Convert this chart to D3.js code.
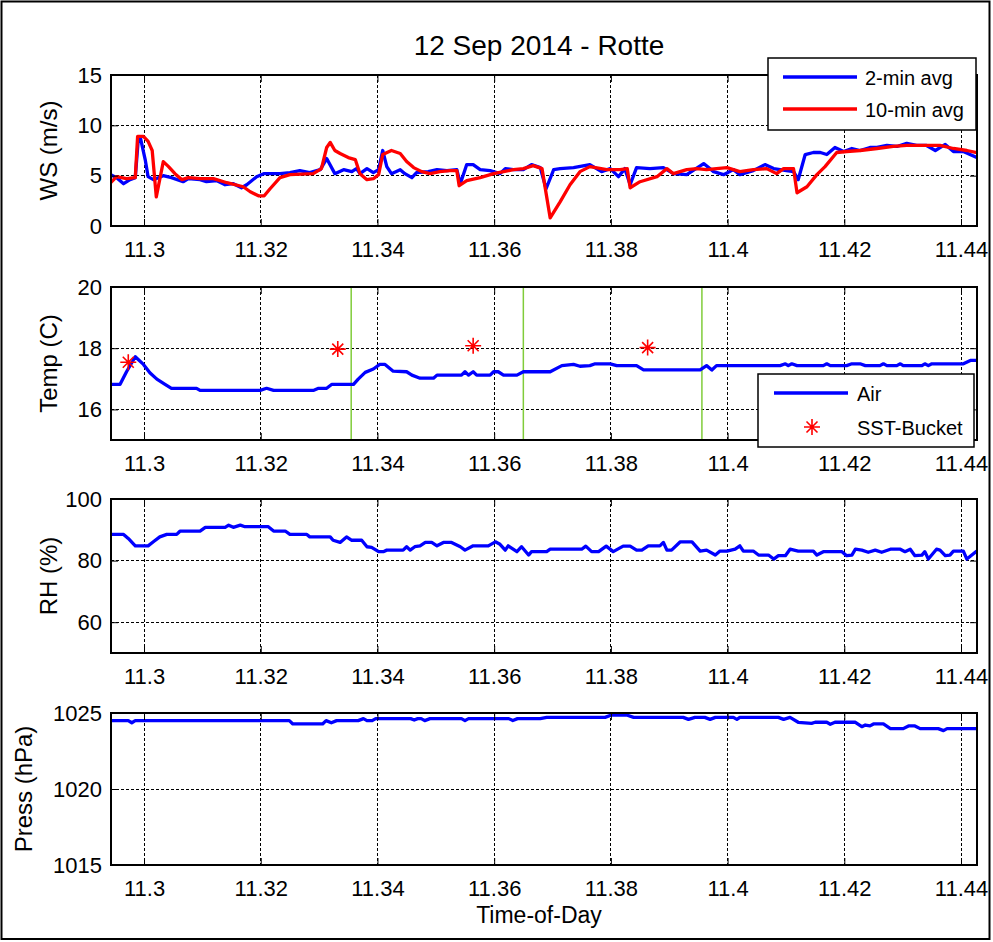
<!DOCTYPE html>
<html><head><meta charset="utf-8">
<script src="https://cdn.jsdelivr.net/npm/d3@7"></script>
<style>body{margin:0;background:#fff}svg{display:block}</style>
</head><body><svg id="c" width="993" height="942"></svg>
<script>
const FONT = '"Liberation Sans", Arial, Helvetica, sans-serif';
const titleText = "12 Sep 2014 - Rotte";
const xLabelText = "Time-of-Day";
const xDomain = [11.29434, 11.44274];
const xTicks = [11.3, 11.32, 11.34, 11.36, 11.38, 11.4, 11.42, 11.44];
const xTickLabels = ["11.3","11.32","11.34","11.36","11.38","11.4","11.42","11.44"];

const wsTicks = [0, 5, 10, 15];
const tempTicks = [16, 18, 20];
const rhTicks = [60, 80, 100];
const pressTicks = [1015, 1020, 1025];

// WS 2-min avg [time, m/s]
const ws2min = [[11.2943,5.1],[11.2953,4.8],[11.2965,4.2],[11.2976,4.6],[11.2985,4.8],[11.2990,8.5],[11.2994,8.7],[11.3002,6.6],[11.3007,4.9],[11.3016,4.6],[11.3033,5.0],[11.3047,4.8],[11.3067,4.4],[11.3076,4.7],[11.3096,4.6],[11.3107,4.4],[11.3125,4.5],[11.3139,4.1],[11.3153,4.2],[11.3167,3.8],[11.3176,4.1],[11.3193,4.9],[11.3205,5.2],[11.3233,5.2],[11.3250,5.3],[11.3267,5.5],[11.3284,5.3],[11.3302,5.6],[11.3313,6.7],[11.3327,5.2],[11.3342,5.6],[11.3356,5.4],[11.3364,5.7],[11.3370,5.2],[11.3382,5.7],[11.3393,5.3],[11.3402,5.6],[11.3409,7.5],[11.3416,5.9],[11.3424,5.2],[11.3439,5.6],[11.3447,5.2],[11.3459,4.8],[11.3467,5.3],[11.3487,5.4],[11.3502,5.6],[11.3519,5.5],[11.3536,5.6],[11.3542,4.2],[11.3553,6.1],[11.3564,6.1],[11.3576,5.6],[11.3593,5.5],[11.3610,5.2],[11.3619,5.7],[11.3633,5.6],[11.3650,5.6],[11.3664,6.1],[11.3679,5.8],[11.3689,3.7],[11.3702,5.6],[11.3713,5.7],[11.3736,5.8],[11.3764,6.1],[11.3784,5.4],[11.3799,5.7],[11.3813,4.9],[11.3824,5.7],[11.3833,4.1],[11.3844,5.8],[11.3867,5.7],[11.3890,5.8],[11.3907,5.2],[11.3930,5.1],[11.3959,6.2],[11.3976,5.4],[11.3993,5.1],[11.4010,5.6],[11.4021,5.1],[11.4044,5.5],[11.4064,6.1],[11.4079,5.7],[11.4101,5.5],[11.4113,5.4],[11.4121,4.6],[11.4133,7.1],[11.4147,7.3],[11.4159,7.3],[11.4170,7.1],[11.4184,7.8],[11.4199,7.4],[11.4213,7.7],[11.4227,7.5],[11.4244,7.8],[11.4256,7.8],[11.4273,8.0],[11.4290,7.9],[11.4307,8.2],[11.4324,8.0],[11.4341,8.0],[11.4356,7.5],[11.4373,8.1],[11.4387,7.4],[11.4404,7.4],[11.4427,6.8]];

// WS 10-min avg [time, m/s]
const ws10min = [[11.2943,4.3],[11.2953,4.9],[11.2970,4.7],[11.2985,4.8],[11.2989,8.9],[11.2999,8.9],[11.3007,8.4],[11.3014,7.5],[11.3021,2.9],[11.3033,6.4],[11.3042,5.9],[11.3053,5.2],[11.3065,4.6],[11.3076,4.8],[11.3096,4.7],[11.3119,4.7],[11.3142,4.3],[11.3170,3.9],[11.3182,3.4],[11.3196,3.0],[11.3206,3.0],[11.3216,3.7],[11.3233,4.8],[11.3250,5.1],[11.3290,5.2],[11.3304,5.7],[11.3313,7.8],[11.3319,8.3],[11.3327,7.5],[11.3336,7.2],[11.3350,6.8],[11.3362,6.6],[11.3370,5.2],[11.3382,4.6],[11.3393,4.7],[11.3402,5.1],[11.3409,7.1],[11.3424,7.5],[11.3439,7.2],[11.3450,6.4],[11.3462,5.8],[11.3476,5.4],[11.3490,5.2],[11.3507,5.4],[11.3524,5.5],[11.3536,5.5],[11.3540,4.0],[11.3553,4.5],[11.3576,4.8],[11.3599,5.2],[11.3616,5.4],[11.3633,5.6],[11.3650,5.7],[11.3667,6.0],[11.3682,5.7],[11.3696,0.8],[11.3713,2.4],[11.3730,4.1],[11.3747,5.4],[11.3764,5.9],[11.3793,5.6],[11.3816,5.6],[11.3828,5.7],[11.3833,3.8],[11.3850,4.4],[11.3879,4.9],[11.3896,5.7],[11.3907,5.2],[11.3930,5.6],[11.3947,5.7],[11.3964,5.6],[11.3981,5.7],[11.3999,5.8],[11.4021,5.4],[11.4044,5.6],[11.4067,5.7],[11.4084,5.2],[11.4096,5.7],[11.4113,5.7],[11.4119,3.3],[11.4136,3.9],[11.4153,5.1],[11.4167,5.9],[11.4187,7.3],[11.4204,7.4],[11.4227,7.5],[11.4256,7.7],[11.4284,7.9],[11.4307,8.0],[11.4336,8.0],[11.4364,8.0],[11.4387,7.7],[11.4410,7.5],[11.4427,7.3]];

// Air temperature [time, C]
const tempAir = [[11.2943,16.82],[11.2959,16.82],[11.2970,17.23],[11.2985,17.72],[11.2999,17.47],[11.3010,17.20],[11.3022,16.99],[11.3036,16.82],[11.3047,16.69],[11.3090,16.69],[11.3096,16.62],[11.3199,16.62],[11.3210,16.69],[11.3222,16.62],[11.3290,16.62],[11.3299,16.69],[11.3313,16.69],[11.3322,16.82],[11.3359,16.82],[11.3367,16.99],[11.3379,17.21],[11.3393,17.32],[11.3404,17.47],[11.3413,17.47],[11.3427,17.25],[11.3450,17.23],[11.3459,17.12],[11.3473,17.02],[11.3496,17.02],[11.3502,17.12],[11.3544,17.12],[11.3550,17.23],[11.3556,17.12],[11.3564,17.23],[11.3570,17.12],[11.3593,17.12],[11.3599,17.23],[11.3607,17.23],[11.3616,17.12],[11.3639,17.12],[11.3650,17.23],[11.3696,17.23],[11.3716,17.43],[11.3736,17.47],[11.3747,17.41],[11.3764,17.43],[11.3773,17.49],[11.3799,17.49],[11.3810,17.43],[11.3844,17.43],[11.3856,17.29],[11.3953,17.29],[11.3964,17.43],[11.3973,17.29],[11.3981,17.43],[11.4090,17.43],[11.4099,17.49],[11.4104,17.43],[11.4110,17.49],[11.4119,17.43],[11.4164,17.43],[11.4170,17.49],[11.4176,17.43],[11.4204,17.43],[11.4213,17.49],[11.4227,17.49],[11.4236,17.43],[11.4261,17.43],[11.4267,17.49],[11.4273,17.43],[11.4290,17.43],[11.4296,17.49],[11.4301,17.43],[11.4333,17.43],[11.4338,17.49],[11.4344,17.43],[11.4350,17.49],[11.4404,17.49],[11.4416,17.60],[11.4427,17.60]];

// SST bucket samples [time, C]
const sstBucket = [[11.2973,17.54],[11.3332,17.97],[11.3564,18.08],[11.3863,18.02]];
// vertical markers (time)
const markerTimes = [11.3355, 11.3650, 11.3956];

// Relative humidity [time, %]
const rh = [[11.2943,88.5],[11.2965,88.5],[11.2973,87.2],[11.2985,84.8],[11.3007,84.8],[11.3016,86.1],[11.3027,87.7],[11.3039,88.5],[11.3056,88.5],[11.3062,89.6],[11.3096,89.6],[11.3105,90.8],[11.3139,90.8],[11.3145,91.5],[11.3153,90.8],[11.3165,91.5],[11.3173,91.0],[11.3213,91.0],[11.3222,89.6],[11.3242,89.6],[11.3250,88.5],[11.3279,88.5],[11.3284,87.7],[11.3319,87.7],[11.3324,86.6],[11.3336,85.9],[11.3347,87.7],[11.3356,86.6],[11.3373,86.6],[11.3382,84.5],[11.3390,84.3],[11.3402,82.9],[11.3410,82.9],[11.3416,83.4],[11.3444,83.4],[11.3450,84.5],[11.3456,83.4],[11.3464,84.5],[11.3473,84.8],[11.3482,85.9],[11.3493,85.9],[11.3502,84.8],[11.3513,85.9],[11.3527,85.9],[11.3542,84.5],[11.3550,83.4],[11.3564,84.8],[11.3590,84.8],[11.3602,86.1],[11.3610,85.3],[11.3619,83.4],[11.3624,84.8],[11.3639,82.9],[11.3647,84.5],[11.3659,81.8],[11.3664,82.9],[11.3690,82.9],[11.3696,83.7],[11.3750,83.7],[11.3757,84.7],[11.3767,82.9],[11.3779,82.9],[11.3792,84.7],[11.3804,82.9],[11.3821,84.7],[11.3833,84.7],[11.3844,83.4],[11.3853,83.4],[11.3864,84.8],[11.3884,84.8],[11.3890,85.9],[11.3896,83.4],[11.3904,83.4],[11.3919,86.1],[11.3939,86.1],[11.3953,83.1],[11.3964,83.4],[11.3979,81.8],[11.3987,83.1],[11.3999,83.1],[11.4013,83.7],[11.4021,84.8],[11.4027,83.1],[11.4044,83.1],[11.4053,81.8],[11.4070,81.8],[11.4079,80.5],[11.4087,81.6],[11.4099,81.6],[11.4107,83.7],[11.4121,83.1],[11.4147,83.1],[11.4153,81.8],[11.4164,82.9],[11.4196,82.9],[11.4204,81.6],[11.4213,81.8],[11.4219,83.7],[11.4230,83.4],[11.4241,82.7],[11.4253,83.4],[11.4264,82.7],[11.4279,83.7],[11.4296,83.7],[11.4304,82.9],[11.4313,83.7],[11.4321,81.6],[11.4333,81.8],[11.4338,82.9],[11.4344,80.5],[11.4358,83.7],[11.4364,83.4],[11.4373,81.6],[11.4381,81.8],[11.4387,83.1],[11.4404,83.1],[11.4410,80.5],[11.4427,83.1]];

// Pressure [time, hPa]
const press = [[11.2943,1024.5],[11.2973,1024.5],[11.2979,1024.36],[11.2985,1024.5],[11.3249,1024.5],[11.3255,1024.28],[11.3306,1024.28],[11.3312,1024.5],[11.3321,1024.36],[11.3330,1024.5],[11.3367,1024.5],[11.3376,1024.63],[11.3382,1024.5],[11.3391,1024.5],[11.3397,1024.63],[11.3457,1024.63],[11.3463,1024.54],[11.3469,1024.63],[11.3475,1024.63],[11.3481,1024.5],[11.3490,1024.63],[11.3544,1024.63],[11.3550,1024.5],[11.3556,1024.63],[11.3625,1024.63],[11.3632,1024.5],[11.3640,1024.63],[11.3679,1024.63],[11.3690,1024.71],[11.3790,1024.71],[11.3801,1024.87],[11.3827,1024.87],[11.3839,1024.71],[11.3924,1024.71],[11.3933,1024.58],[11.3944,1024.71],[11.3961,1024.71],[11.3970,1024.58],[11.3979,1024.71],[11.4010,1024.71],[11.4016,1024.58],[11.4021,1024.71],[11.4087,1024.71],[11.4096,1024.58],[11.4107,1024.71],[11.4121,1024.39],[11.4144,1024.32],[11.4150,1024.39],[11.4170,1024.39],[11.4176,1024.26],[11.4184,1024.39],[11.4219,1024.39],[11.4230,1024.1],[11.4236,1024.21],[11.4244,1024.15],[11.4250,1024.28],[11.4267,1024.28],[11.4279,1023.97],[11.4301,1023.97],[11.4310,1024.15],[11.4321,1024.15],[11.4330,1023.97],[11.4361,1023.97],[11.4370,1023.84],[11.4376,1023.97],[11.4427,1023.97]];

const wsLegend = ["2-min avg", "10-min avg"];
const tempLegend = ["Air", "SST-Bucket"];

const BLUE = "#0000ff", RED = "#ff0000", GREEN = "#80cc3a";
const LW = 3.3;
const svg = d3.select("#c");
const L = 111, R = 977;
const x = d3.scaleLinear().domain(xDomain).range([L, R]);

// outer figure frame
svg.append("rect").attr("x",1.5).attr("y",1.5).attr("width",988).attr("height",937.5)
  .attr("fill","none").attr("stroke","#000").attr("stroke-width",2);

const panels = [
  {top:75,  bottom:226, domain:[0,15],      ticks:wsTicks,    label:"WS (m/s)",    lx:57},
  {top:287, bottom:440, domain:[15,20],     ticks:tempTicks,  label:"Temp (C)",    lx:57},
  {top:499, bottom:653, domain:[50,100],    ticks:rhTicks,    label:"RH (%)",      lx:57},
  {top:713, bottom:865, domain:[1015,1025], ticks:pressTicks, label:"Press (hPa)", lx:32}
];

const starPath = "M-8,0H8M0,-8V8M-5.5,-5.5L5.5,5.5M-5.5,5.5L5.5,-5.5";

panels.forEach((p, i) => {
  const y = d3.scaleLinear().domain(p.domain).range([p.bottom, p.top]);
  p.y = y;
  const g = svg.append("g");
  const cid = "clip" + i;
  svg.append("clipPath").attr("id", cid).append("rect")
    .attr("x", L).attr("y", p.top).attr("width", R - L).attr("height", p.bottom - p.top);

  // grid
  const grid = g.append("g").attr("stroke","#000").attr("stroke-width",1)
    .attr("stroke-dasharray","3,2").attr("shape-rendering","crispEdges");
  grid.selectAll("line.v").data(xTicks).join("line").attr("class","v")
    .attr("x1", d => x(d)).attr("x2", d => x(d)).attr("y1", p.top).attr("y2", p.bottom);
  grid.selectAll("line.h").data(p.ticks.filter(t => t > p.domain[0] && t < p.domain[1])).join("line").attr("class","h")
    .attr("x1", L).attr("x2", R).attr("y1", d => y(d)).attr("y2", d => y(d));

  p.g = g.append("g").attr("clip-path", `url(#${cid})`);

  // axes (ticks inside on all four sides)
  const setup = sel => {
    sel.select(".domain").remove();
    sel.attr("font-size", 22).attr("font-family", FONT);
    sel.selectAll("line").attr("stroke","#000").attr("stroke-width",1);
    sel.selectAll("text").attr("fill","#000");
  };
  svg.append("g").attr("transform", `translate(0,${p.bottom})`)
    .call(d3.axisBottom(x).tickValues(xTicks).tickFormat((d, k) => xTickLabels[k])
      .tickSizeInner(-7).tickSizeOuter(0).tickPadding(15)).call(setup);
  svg.append("g").attr("transform", `translate(0,${p.top})`)
    .call(d3.axisTop(x).tickValues(xTicks).tickFormat("").tickSizeInner(-7).tickSizeOuter(0)).call(setup);
  svg.append("g").attr("transform", `translate(${L},0)`)
    .call(d3.axisLeft(y).tickValues(p.ticks).tickFormat(d3.format("d"))
      .tickSizeInner(-7).tickSizeOuter(0).tickPadding(9)).call(setup);
  svg.append("g").attr("transform", `translate(${R},0)`)
    .call(d3.axisRight(y).tickValues(p.ticks).tickFormat("").tickSizeInner(-7).tickSizeOuter(0)).call(setup);

  // y label
  svg.append("text").attr("transform", `translate(${p.lx},${(p.top + p.bottom) / 2}) rotate(-90)`)
    .attr("text-anchor","middle").attr("font-family",FONT).attr("font-size",24).text(p.label);
});

const line = (y) => d3.line().x(d => x(d[0])).y(d => y(d[1]));

// Panel 1: wind speed
const P1 = panels[0];
P1.g.append("path").datum(ws2min).attr("d", line(P1.y)).attr("fill","none")
  .attr("stroke",BLUE).attr("stroke-width",LW).attr("stroke-linejoin","round");
P1.g.append("path").datum(ws10min).attr("d", line(P1.y)).attr("fill","none")
  .attr("stroke",RED).attr("stroke-width",LW).attr("stroke-linejoin","round");

// Panel 2: temperature
const P2 = panels[1];
P2.g.append("g").selectAll("line").data(markerTimes).join("line")
  .attr("x1", d => x(d)).attr("x2", d => x(d)).attr("y1", P2.top).attr("y2", P2.bottom)
  .attr("stroke", GREEN).attr("stroke-width", 1.5);
P2.g.append("path").datum(tempAir).attr("d", line(P2.y)).attr("fill","none")
  .attr("stroke",BLUE).attr("stroke-width",LW).attr("stroke-linejoin","round");
P2.g.append("g").selectAll("path").data(sstBucket).join("path")
  .attr("transform", d => `translate(${x(d[0])},${P2.y(d[1])})`)
  .attr("d", starPath).attr("fill","none").attr("stroke",RED).attr("stroke-width",1.6);

// Panel 3: RH
const P3 = panels[2];
P3.g.append("path").datum(rh).attr("d", line(P3.y)).attr("fill","none")
  .attr("stroke",BLUE).attr("stroke-width",LW).attr("stroke-linejoin","round");

// Panel 4: pressure
const P4 = panels[3];
P4.g.append("path").datum(press).attr("d", line(P4.y)).attr("fill","none")
  .attr("stroke",BLUE).attr("stroke-width",LW).attr("stroke-linejoin","round");

// frames on top
panels.forEach(p => {
  svg.append("rect").attr("x", L).attr("y", p.top).attr("width", R - L).attr("height", p.bottom - p.top)
    .attr("fill","none").attr("stroke","#000").attr("stroke-width",2).attr("shape-rendering","crispEdges");
});

// title & x label
svg.append("text").attr("x", 539).attr("y", 55).attr("text-anchor","middle")
  .attr("font-family",FONT).attr("font-size",28).text(titleText);
svg.append("text").attr("x", 539).attr("y", 923).attr("text-anchor","middle")
  .attr("font-family",FONT).attr("font-size",23).text(xLabelText);

// legend WS
const lg1 = svg.append("g");
lg1.append("rect").attr("x",768).attr("y",58).attr("width",208).attr("height",72)
  .attr("fill","#fff").attr("stroke","#000").attr("stroke-width",1.5);
[BLUE, RED].forEach((c, k) => {
  const yy = 77 + k * 32;
  lg1.append("line").attr("x1",783).attr("x2",857).attr("y1",yy).attr("y2",yy).attr("stroke",c).attr("stroke-width",LW);
  lg1.append("text").attr("x",865).attr("y",yy + 8).attr("font-family",FONT).attr("font-size",20).text(wsLegend[k]);
});

// legend Temp
const lg2 = svg.append("g");
lg2.append("rect").attr("x",758).attr("y",374).attr("width",216).attr("height",73)
  .attr("fill","#fff").attr("stroke","#000").attr("stroke-width",1.5);
lg2.append("line").attr("x1",774).attr("x2",848).attr("y1",393).attr("y2",393).attr("stroke",BLUE).attr("stroke-width",LW);
lg2.append("text").attr("x",857).attr("y",401).attr("font-family",FONT).attr("font-size",20).text(tempLegend[0]);
lg2.append("path").attr("transform","translate(812,427)").attr("d",starPath).attr("fill","none").attr("stroke",RED).attr("stroke-width",1.6);
lg2.append("text").attr("x",857).attr("y",435).attr("font-family",FONT).attr("font-size",20).text(tempLegend[1]);
</script>
</body></html>
